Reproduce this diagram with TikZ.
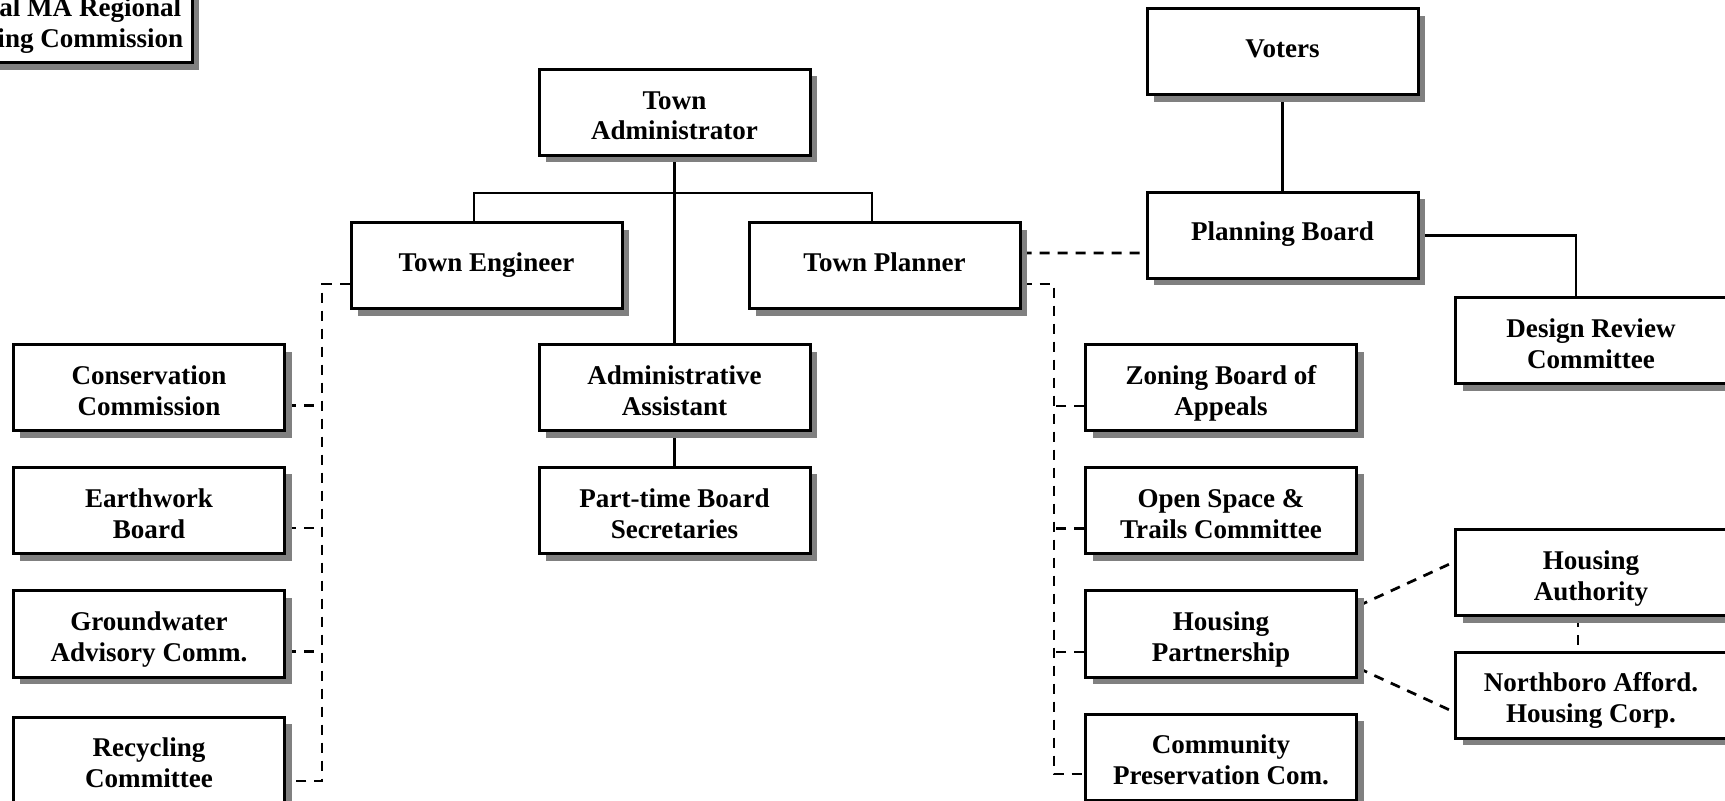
\documentclass[tikz,border=0pt]{standalone}
\usepackage{fontspec}
\setmainfont{Liberation Serif}
\usetikzlibrary{shadows,backgrounds,calc}

\tikzset{
    office/.style={draw, line width=0.6mm, fill=white, minimum width=54.2mm, minimum height=17.2mm,
        inner sep=0pt, align=center, font=\fontsize{15.4pt}{17.6pt}\selectfont\bfseries,
        text height=10.2pt, text depth=4.5pt,
        drop shadow={shadow xshift=1.4mm, shadow yshift=-1.4mm, fill=black!50, opacity=1}},
    twoline/.style={office, text height=31.3pt, text depth=0pt},
    solidlink/.style={line width=0.55mm},
    dashlink/.style={line width=0.55mm, dash pattern=on 2mm off 1.6mm}
}

\begin{document}
\begin{tikzpicture}[x=0.2mm, y=-0.2mm]
            \useasboundingbox (0,0) rectangle (1725,801);
            \node[twoline] (cmrpc) at (56.5, 20) {Central MA Regional\\Planning Commission};
            \node[office] (voters) at (1282.5, 52) {Voters};
            \node[office] (pb) at (1282.5, 235.5) {Planning Board};
            \node[twoline] (drc) at (1591, 341) {Design Review\\Committee};
            \node[twoline] (ta) at (674.5, 112.5) {Town\\Administrator};
            \node[office] (te) at (486.5, 266) {Town Engineer};
            \node[office] (tp) at (884.5, 266) {Town Planner};
            \node[twoline] (aa) at (674.5, 388) {Administrative\\Assistant};
            \node[twoline] (ptbs) at (674.5, 510.5) {Part-time Board\\Secretaries};
            \node[twoline] (cons) at (149, 388) {Conservation\\Commission};
            \node[twoline] (earth) at (149, 510.5) {Earthwork\\Board};
            \node[twoline] (ground) at (149, 634) {Groundwater\\Advisory Comm.};
            \node[twoline] (recyc) at (149, 760) {Recycling\\Committee};
            \node[twoline] (zba) at (1221, 388) {Zoning Board of\\Appeals};
            \node[twoline] (ostc) at (1221, 510.5) {Open Space \&\\Trails Committee};
            \node[twoline] (hp) at (1221, 634) {Housing\\Partnership};
            \node[twoline] (cpc) at (1221, 757) {Community\\Preservation Com.};
            \node[twoline] (ha) at (1591, 572.5) {Housing\\Authority};
            \node[twoline] (nahc) at (1591, 695) {Northboro Afford.\\Housing Corp.};
            \coordinate (bus) at (674.5, 193);
            \begin{pgfonlayer}{background}
            \draw[solidlink] (ta.south) -- (aa.north);
            \draw[solidlink] (aa.south) -- (ptbs.north);
            \draw[solidlink] ($(te.north)+(-12.5,0)$) |- (bus) -| ($(tp.north)+(-12.5,0)$);
            \draw[solidlink] (voters.south) -- (pb.north);
            \draw[solidlink] (pb.east) -| ($(drc.north)+(-15,0)$);
            \draw[dashlink] ($(tp.east)+(0,-13)$) -- ($(pb.west)+(0,17.5)$);
            \draw[dashlink] ($(te.west)+(0,18)$) -| ($(recyc.east)+(36,21)$) -- ($(recyc.east)+(0,21)$);
            \foreach \n in {cons,earth,ground}
                \draw[dashlink] ($(\n.east)+(0,17.5)$) -- ($(\n.east)+(36,17.5)$);
            \draw[dashlink] ($(tp.east)+(0,18)$) -| ($(cpc.west)+(-30,17)$) -- ($(cpc.west)+(0,17)$);
            \foreach \n in {zba,ostc,hp}
                \draw[dashlink] ($(\n.west)+(0,18)$) -- ($(\n.west)+(-30,18)$);
            \draw[dashlink] ($(hp.east)+(0,-28)$) -- ($(ha.west)+(0,-10.5)$);
            \draw[dashlink] ($(hp.east)+(0,34)$) -- ($(nahc.west)+(0,17)$);
            \draw[dashlink] ($(ha.south)+(-13,0)$) -- ($(nahc.north)+(-13,0)$);
            \end{pgfonlayer}
        \end{tikzpicture}
\end{document}
